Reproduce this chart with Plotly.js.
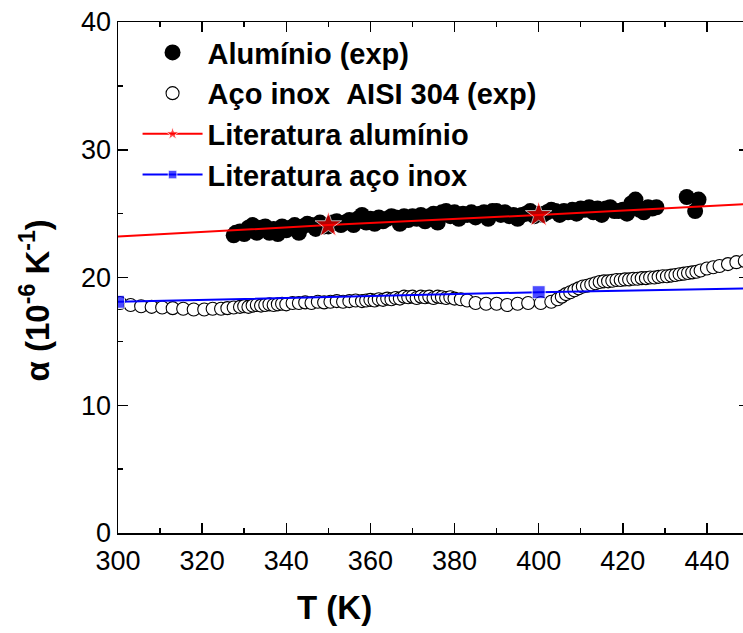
<!DOCTYPE html>
<html>
<head>
<meta charset="utf-8">
<script src="https://cdn.plot.ly/plotly-3.0.1.min.js"></script>
<style>
html,body{margin:0;padding:0;overflow:hidden;background:#fff;}
#chart{width:752px;height:633px;}
</style>
</head>
<body>
<div id="chart"></div>
<script>
// Alumínio (exp)
var alT = [327.5,328,329,330,331,332,333,334,335,336,337,338,339,340,341,342,343,344,345,346,347,348,349,350,351,352,353,354,355,356,357,358,359,360,361,362,363,364,365,366,367,368,369,370,371,372,373,374,375,376,377,378,379,380,381,382,383,384,385,386,387,388,389,390,391,392,393,394,395,396,397,398,399,400,401,402,403,404,405,406,407,408,409,410,411,412,413,414,415,416,417,418,419,420,421,422,423,424,425,426,427,428,435.2,437.2,438];
var alA = [23.3,23.5,23.6,23.4,23.9,24.1,23.5,23.9,24.0,23.5,23.8,23.4,24.0,23.7,23.9,24.1,23.5,24.0,24.2,24.1,23.8,24.3,24.0,24.0,24.3,24.4,24.1,24.3,24.5,24.1,24.6,24.9,24.3,24.6,24.2,24.7,24.4,24.6,24.8,24.7,24.2,24.8,24.5,24.8,24.6,24.9,24.4,24.8,25.0,24.3,25.1,25.2,24.8,25.1,24.6,25.0,24.9,25.1,24.7,25.0,25.1,24.6,25.2,25.2,24.9,25.1,24.8,24.9,24.6,24.9,25.0,25.2,24.8,25.0,24.9,25.1,25.3,25.2,24.9,25.2,25.1,25.3,25.0,25.4,25.3,25.5,25.1,25.4,24.9,25.4,25.5,25.2,25.2,25.3,25.0,25.8,26.1,25.3,25.1,25.5,25.4,25.5,26.3,25.2,26.1];

// Aço inox AISI 304 (exp)
var ssT = [300.5,303,305.5,308,310.5,313,315.5,318,320.5,322.5,324.5,326,327.5,329,330,331,332,333,334,335,336,337,338,339,340,341.5,343,344.5,346,347.5,349,350.5,352,353.5,355,356.5,358,359,360,361,362,363,364,365,366,367,368,369,370,371,372,373,374,375,376,377,378,379,380,381.5,383,385,387.5,390,392.5,395,397.5,400.5,403,404.5,405.5,406.5,407.5,408.5,409.5,410.5,411.5,412.5,413.5,414.5,415.5,416.5,417.5,418.5,419.5,420.5,421.5,422.5,423.5,424.5,425.5,426.5,427.5,428.5,429.5,430.5,431.5,432.5,433.5,434.5,435.5,436.5,437.5,438.5,440,441.5,443,445,447,449];
var ssA = [18.0,17.85,17.75,17.7,17.65,17.6,17.55,17.5,17.5,17.55,17.55,17.6,17.65,17.7,17.75,17.7,17.8,17.85,17.8,17.85,17.9,17.85,17.9,17.95,17.9,18.0,18.0,18.05,18.0,18.1,18.05,18.1,18.15,18.1,18.15,18.2,18.15,18.2,18.25,18.2,18.3,18.25,18.35,18.3,18.4,18.35,18.5,18.45,18.5,18.4,18.5,18.45,18.5,18.4,18.5,18.45,18.4,18.45,18.35,18.3,18.2,18.0,17.95,17.95,17.85,17.95,18.0,18.0,18.1,18.3,18.5,18.7,18.85,19.0,19.15,19.3,19.35,19.45,19.55,19.65,19.7,19.7,19.75,19.8,19.8,19.85,19.85,19.9,19.9,19.95,19.95,20.0,20.0,20.05,20.1,20.1,20.15,20.2,20.25,20.3,20.35,20.4,20.45,20.55,20.7,20.8,20.9,21.05,21.2,21.3];

// Literatura alumínio
var litAlT = [300,350,400,450];
var litAlA = [23.2,24.1,24.9,25.75];
var litAlShown = [0,1,1,0];

// Literatura aço inox
var litSsT = [300,400,450];
var litSsA = [18.1,18.85,19.15];
var litSsShown = [1,1,0];

var names = ['Alumínio (exp)','Aço inox\u00a0\u00a0AISI 304 (exp)','Literatura alumínio','Literatura aço inox'];

var traces = [
  {x: alT, y: alA, name: names[0], mode: 'markers', type: 'scatter',
   marker: {symbol: 'circle', size: 16, color: '#000'}},
  {x: ssT, y: ssA, name: names[1], mode: 'markers', type: 'scatter',
   marker: {symbol: 'circle', size: 13, color: '#fff', line: {color: '#000', width: 1.1}}},
  {x: litAlT, y: litAlA, name: names[2], mode: 'lines+markers', type: 'scatter',
   line: {color: '#ff0000', width: 2},
   marker: {symbol: 'star', color: '#ff0000', size: litAlShown.map(function(s){return s ? 20 : 0;})}},
  {x: litSsT, y: litSsA, name: names[3], mode: 'lines+markers', type: 'scatter',
   line: {color: '#0000ff', width: 2},
   marker: {symbol: 'square', color: '#0000ff', size: litSsShown.map(function(s){return s ? 13 : 0;})}}
];

var axisCommon = {
  showgrid: false, zeroline: false, showline: true, mirror: 'ticks',
  linecolor: '#000', linewidth: 1.5,
  ticks: 'inside', ticklen: 10, tickwidth: 1.5, tickcolor: '#000',
  tickfont: {family: 'Liberation Sans, Arial, sans-serif', size: 27, color: '#000'}
};

var layout = {
  width: 752, height: 633,
  margin: {l: 118, r: 3, t: 22, b: 100},
  paper_bgcolor: '#fff', plot_bgcolor: '#fff',
  showlegend: true,
  xaxis: Object.assign({}, axisCommon, {
    range: [300, 450], dtick: 20, tick0: 300, ticklabelstandoff: 3,
    minor: {dtick: 10, ticks: 'inside', ticklen: 5, tickwidth: 1.5, tickcolor: '#000'}
  }),
  yaxis: Object.assign({}, axisCommon, {
    range: [0, 40], dtick: 10, tick0: 0,
    minor: {dtick: 5, ticks: 'inside', ticklen: 5, tickwidth: 1.5, tickcolor: '#000'}
  }),
  legend: {
    x: 0.031, y: 0.99, xanchor: 'left', yanchor: 'top',
    bgcolor: 'rgba(0,0,0,0)', borderwidth: 0,
    font: {family: 'Liberation Sans, Arial, sans-serif', size: 29, color: '#000', weight: 'bold'},
    itemwidth: 60, tracegroupgap: 0
  },
  annotations: [
    {text: '<b>T (K)</b>', xref: 'paper', yref: 'paper', x: (334 - 118) / 631, y: -0.145,
     xanchor: 'center', yanchor: 'middle', showarrow: false,
     font: {family: 'Liberation Sans, Arial, sans-serif', size: 33, color: '#000'}},
    {text: '<b>α (10<sup>-6</sup> K<sup>-1</sup>)</b>', xref: 'paper', yref: 'paper', x: -0.13, y: 0.455,
     xanchor: 'center', yanchor: 'middle', textangle: -90, showarrow: false,
     font: {family: 'Liberation Sans, Arial, sans-serif', size: 33, color: '#000'}}
  ]
};

Plotly.newPlot('chart', traces, layout, {staticPlot: true, displayModeBar: false});
</script>
</body>
</html>
